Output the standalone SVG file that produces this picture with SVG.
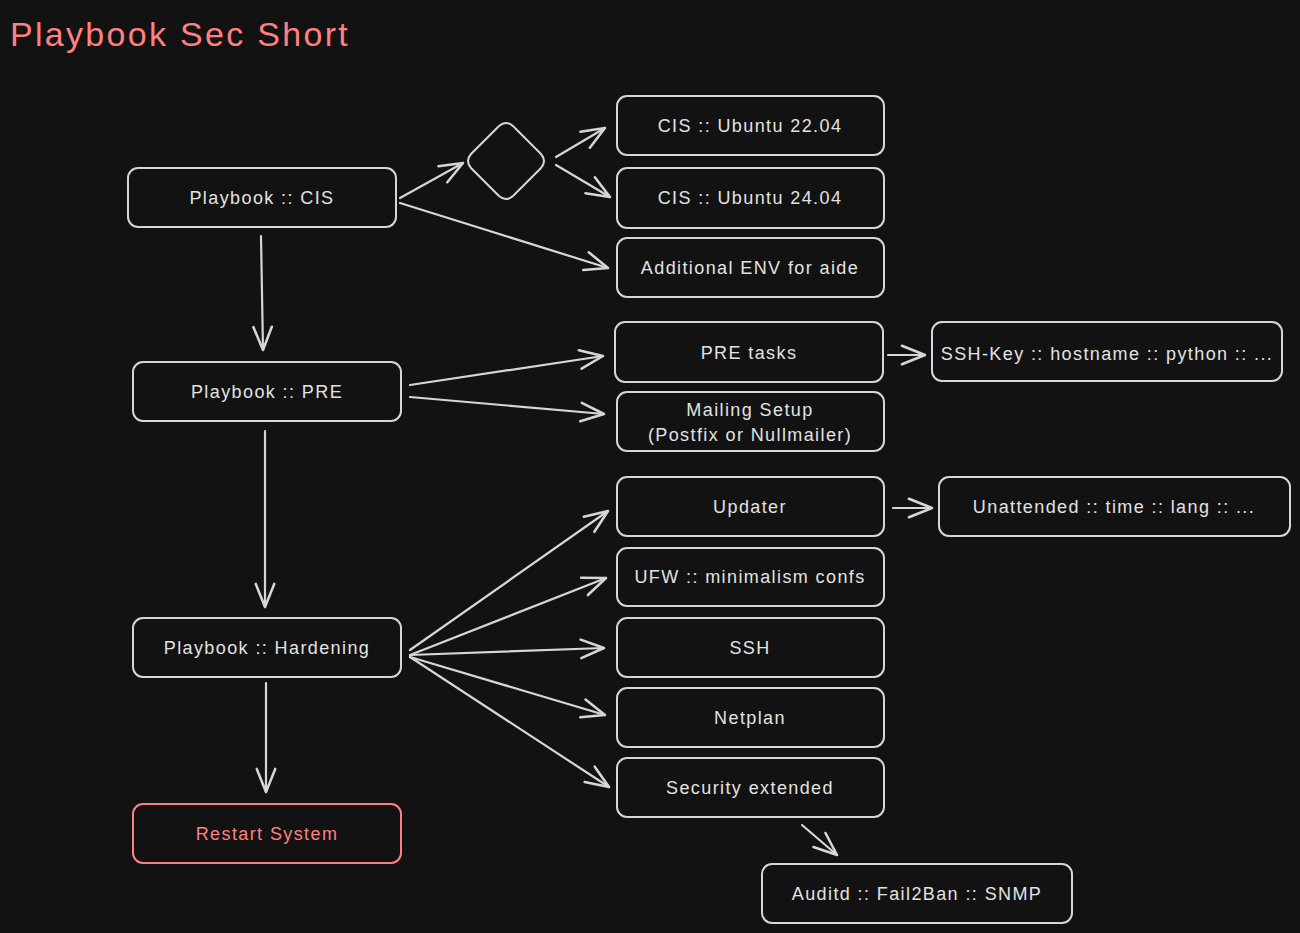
<svg xmlns="http://www.w3.org/2000/svg" width="1300" height="933" viewBox="0 0 1300 933">
<defs>
<marker id="ah" markerUnits="userSpaceOnUse" markerWidth="30" markerHeight="30" viewBox="-22 -10 26 20" refX="0" refY="0" orient="auto">
<path d="M-20,-8 L0,0 L-20,8" fill="none" stroke="#d6d6d6" stroke-width="2.2" stroke-linecap="round" stroke-linejoin="round"/>
</marker>
</defs>
<style>
.bg{fill:#121212}
.box{fill:#121212;stroke:#d6d6d6;stroke-width:2}
.red{fill:#121212;stroke:#ff8080;stroke-width:2}
.t{font-family:"Liberation Sans","DejaVu Sans",sans-serif;font-size:18px;letter-spacing:1.4px;fill:#e2e2e2;text-anchor:middle;dominant-baseline:central}
.tr{fill:#ff8080}
.c{fill:none;stroke:#d6d6d6;stroke-width:2.2;stroke-linecap:round;marker-end:url(#ah)}
</style>
<rect class="bg" x="0" y="0" width="1300" height="933"/>
<text x="10" y="46" style="font-family:'Liberation Sans','DejaVu Sans',sans-serif;font-size:34px;letter-spacing:2.3px;fill:#ff8080">Playbook Sec Short</text>

<g id="connectors">
<line class="c" x1="400" y1="198" x2="463" y2="163"/>
<line class="c" x1="556" y1="157" x2="605" y2="128"/>
<line class="c" x1="556" y1="165" x2="610" y2="197"/>
<line class="c" x1="400" y1="203" x2="608" y2="268"/>
<line class="c" x1="261" y1="236" x2="263" y2="350"/>
<line class="c" x1="410" y1="385" x2="603" y2="356"/>
<line class="c" x1="410" y1="397" x2="604" y2="414"/>
<line class="c" x1="888" y1="355" x2="925" y2="355"/>
<line class="c" x1="265" y1="431" x2="265" y2="607"/>
<line class="c" x1="410" y1="650" x2="608" y2="511"/>
<line class="c" x1="410" y1="655" x2="606" y2="578"/>
<line class="c" x1="410" y1="655" x2="604" y2="648"/>
<line class="c" x1="410" y1="657" x2="605" y2="715"/>
<line class="c" x1="410" y1="657" x2="609" y2="787"/>
<line class="c" x1="893" y1="508" x2="932" y2="508"/>
<line class="c" x1="266" y1="683" x2="266" y2="792"/>
<line class="c" x1="802" y1="825" x2="837" y2="855"/>
</g>

<g id="cis"><rect class="box" x="128" y="168" width="268" height="59" rx="10"/><text class="t" x="262" y="198">Playbook :: CIS</text></g>
<g id="decision"><path class="box" d="M499,126 Q506,120 513,126 L541,154 Q547,161 541,168 L513,196 Q506,202 499,196 L471,168 Q465,161 471,154 Z"/></g>
<g id="ubuntu2204"><rect class="box" x="617" y="96" width="267" height="59" rx="10"/><text class="t" x="750" y="126">CIS :: Ubuntu 22.04</text></g>
<g id="ubuntu2404"><rect class="box" x="617" y="168" width="267" height="60" rx="10"/><text class="t" x="750" y="198">CIS :: Ubuntu 24.04</text></g>
<g id="aide"><rect class="box" x="617" y="238" width="267" height="59" rx="10"/><text class="t" x="750" y="268">Additional ENV for aide</text></g>
<g id="pre"><rect class="box" x="133" y="362" width="268" height="59" rx="10"/><text class="t" x="267" y="392">Playbook :: PRE</text></g>
<g id="pretasks"><rect class="box" x="615" y="322" width="268" height="60" rx="10"/><text class="t" x="749" y="353">PRE tasks</text></g>
<g id="sshkey"><rect class="box" x="932" y="322" width="350" height="59" rx="10"/><text class="t" x="1107" y="354">SSH-Key :: hostname :: python :: ...</text></g>
<g id="mailing"><rect class="box" x="617" y="392" width="267" height="59" rx="10"/><text class="t" x="750" y="410">Mailing Setup</text><text class="t" x="750" y="435">(Postfix or Nullmailer)</text></g>
<g id="hardening"><rect class="box" x="133" y="618" width="268" height="59" rx="10"/><text class="t" x="267" y="648">Playbook :: Hardening</text></g>
<g id="updater"><rect class="box" x="617" y="477" width="267" height="59" rx="10"/><text class="t" x="750" y="507">Updater</text></g>
<g id="unattended"><rect class="box" x="939" y="477" width="351" height="59" rx="10"/><text class="t" x="1114" y="507">Unattended :: time :: lang :: ...</text></g>
<g id="ufw"><rect class="box" x="617" y="548" width="267" height="58" rx="10"/><text class="t" x="750" y="577">UFW :: minimalism confs</text></g>
<g id="ssh"><rect class="box" x="617" y="618" width="267" height="59" rx="10"/><text class="t" x="750" y="648">SSH</text></g>
<g id="netplan"><rect class="box" x="617" y="688" width="267" height="59" rx="10"/><text class="t" x="750" y="718">Netplan</text></g>
<g id="security"><rect class="box" x="617" y="758" width="267" height="59" rx="10"/><text class="t" x="750" y="788">Security extended</text></g>
<g id="restart"><rect class="red" x="133" y="804" width="268" height="59" rx="10"/><text class="t tr" x="267" y="834">Restart System</text></g>
<g id="auditd"><rect class="box" x="762" y="864" width="310" height="59" rx="10"/><text class="t" x="917" y="894">Auditd :: Fail2Ban :: SNMP</text></g>
</svg>
